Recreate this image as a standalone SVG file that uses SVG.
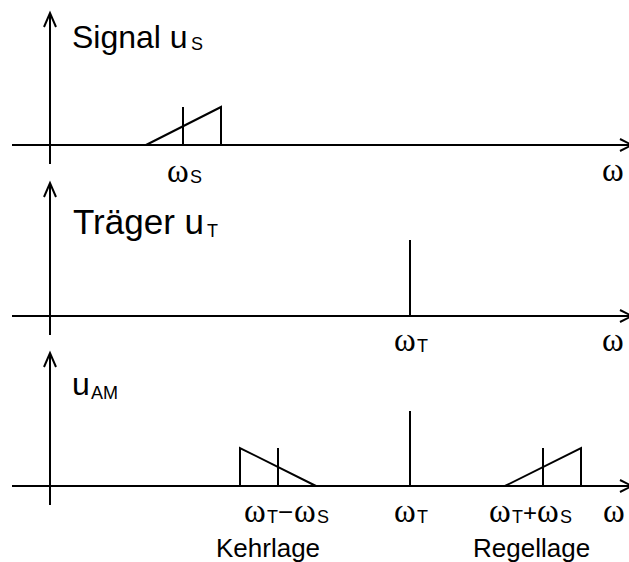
<svg xmlns="http://www.w3.org/2000/svg" width="629" height="562" viewBox="0 0 629 562">
<style>
.ln{stroke:#000;stroke-width:2;fill:none}
.t{font-family:"Liberation Sans",Arial,sans-serif;fill:#000}
.sub{font-size:18px}
.lab{font-size:26px}
.w{font-family:"Liberation Serif","Times New Roman",serif;font-size:33px;fill:#000}
</style>
<rect width="629" height="562" fill="#fff"/>
<g id="panel-signal">
<g id="axes-1" class="ln">
<path d="M50,164 V13 M44,27 L50,13 L56,27"/>
<path d="M12,145 H632 M620,139 L632,145 L620,151"/>
</g>
<g id="spectrum-1" class="ln">
<path d="M146,145 L221,107 V145"/>
<path d="M183,107 V145"/>
</g>
<text class="t" font-size="32" x="72" y="48">Signal u<tspan class="sub" x="191" y="50">S</tspan></text>
<text class="w" x="167" y="182">ω<tspan class="t sub" x="190" y="183">S</tspan></text>
<text class="w" x="602" y="181">ω</text>
</g>
<g id="panel-traeger">
<g id="axes-2" class="ln">
<path d="M50,335 V183 M44,197 L50,183 L56,197"/>
<path d="M12,316 H632 M620,310 L632,316 L620,322"/>
</g>
<path class="ln" d="M410,240 V316"/>
<text class="t" font-size="35" x="73" y="234">Träger u<tspan class="sub" x="207" y="237">T</tspan></text>
<text class="w" x="394" y="351">ω<tspan class="t sub" x="417" y="352">T</tspan></text>
<text class="w" x="602" y="351">ω</text>
</g>
<g id="panel-am">
<g id="axes-3" class="ln">
<path d="M50,505 V353 M44,367 L50,353 L56,367"/>
<path d="M12,486 H632 M620,480 L632,486 L620,492"/>
</g>
<g id="spectrum-3" class="ln">
<path d="M240,486 V448 L316,486"/>
<path d="M278,448 V486"/>
<path d="M410,411 V486"/>
<path d="M505,486 L581,448 V486"/>
<path d="M543,448 V486"/>
</g>
<text class="t" font-size="32" x="72" y="395">u<tspan class="sub" x="91" y="399">AM</tspan></text>
<text class="w" x="244" y="522">ω<tspan class="t sub" x="267" y="523">T</tspan><tspan class="t lab" x="278" y="521">−</tspan><tspan x="294" y="522">ω</tspan><tspan class="t sub" x="317" y="523">S</tspan></text>
<text class="w" x="394" y="522">ω<tspan class="t sub" x="417" y="523">T</tspan></text>
<text class="w" x="489" y="522">ω<tspan class="t sub" x="512" y="523">T</tspan><tspan class="t" font-size="24" x="523" y="521">+</tspan><tspan x="537" y="522">ω</tspan><tspan class="t sub" x="560" y="523">S</tspan></text>
<text class="w" x="603" y="522">ω</text>
<text class="t lab" x="216" y="557">Kehrlage</text>
<text class="t lab" x="473" y="557">Regellage</text>
</g>
</svg>
